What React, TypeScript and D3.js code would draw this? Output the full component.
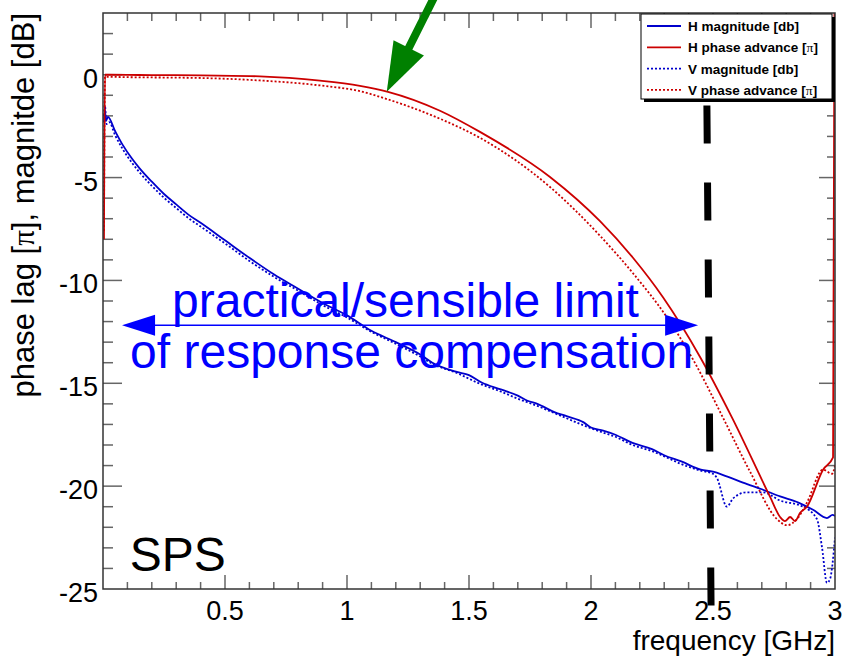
import { useEffect, useRef } from 'react';
import * as d3 from 'd3';

// ==========================================
// DATA
// ==========================================
const hMagFreq = [0.004, 0.008, 0.012, 0.02, 0.05, 0.08, 0.12, 0.15, 0.2, 0.25, 0.3, 0.35, 0.4, 0.5, 0.6, 0.7, 0.8, 0.9, 1.0, 1.1, 1.2, 1.3, 1.35, 1.45, 1.5, 1.55, 1.63, 1.7, 1.74, 1.78, 1.85, 1.9, 1.97, 2.0, 2.05, 2.1, 2.17, 2.25, 2.3, 2.37, 2.45, 2.5, 2.55, 2.64, 2.7, 2.775, 2.85, 2.91, 2.967, 2.99, 3.0];
const hMag = [-2.3, -1.7, -2.25, -2.05, -2.75, -3.4, -4.1, -4.55, -5.2, -5.8, -6.3, -6.8, -7.2, -8.05, -8.9, -9.7, -10.4, -11.1, -11.7, -12.45, -13.0, -13.6, -14.0, -14.45, -14.6, -14.95, -15.3, -15.6, -15.85, -16.0, -16.4, -16.6, -16.9, -17.15, -17.3, -17.5, -17.9, -18.2, -18.5, -18.8, -19.2, -19.3, -19.5, -19.9, -20.15, -20.5, -20.8, -21.15, -21.55, -21.4, -21.45];

const hPhaseFreq = [0.004, 0.008, 0.1, 0.2, 0.4, 0.643, 0.889, 1.053, 1.168, 1.381, 1.545, 1.832, 2.037, 2.172, 2.295, 2.447, 2.578, 2.734, 2.775, 2.795, 2.816, 2.836, 2.857, 2.885, 2.951, 2.992, 2.998];
const hPhase = [-8.0, 0.0, -0.01, -0.02, -0.03, -0.08, -0.29, -0.54, -0.83, -1.75, -2.78, -4.97, -7.12, -8.9, -10.82, -13.72, -16.67, -20.52, -21.5, -21.7, -21.5, -21.7, -21.3, -21.0, -19.2, -18.6, 4];

const vMagFreq = [0.004, 0.008, 0.014, 0.025, 0.05, 0.08, 0.12, 0.15, 0.2, 0.25, 0.3, 0.35, 0.4, 0.5, 0.6, 0.7, 0.8, 0.9, 1.0, 1.1, 1.2, 1.3, 1.35, 1.45, 1.55, 1.63, 1.7, 1.78, 1.85, 1.9, 1.97, 2.05, 2.1, 2.17, 2.25, 2.3, 2.365, 2.45, 2.5, 2.516, 2.557, 2.582, 2.639, 2.705, 2.775, 2.869, 2.926, 2.947, 2.967, 2.98, 3.0];
const vMag = [-2.0, -1.5, -2.4, -2.3, -2.95, -3.6, -4.3, -4.75, -5.4, -5.98, -6.48, -6.97, -7.38, -8.2, -9.05, -9.82, -10.5, -11.2, -11.8, -12.5, -13.08, -13.7, -14.05, -14.5, -15.05, -15.4, -15.75, -16.1, -16.45, -16.7, -17.05, -17.4, -17.6, -18.0, -18.3, -18.55, -18.9, -19.25, -19.4, -19.6, -21.0, -20.6, -20.3, -20.3, -20.7, -21.0, -21.6, -23.0, -24.7, -24.5, -22.5];

const vPhaseFreq = [0.004, 0.008, 0.1, 0.4, 0.643, 0.889, 1.053, 1.16, 1.381, 1.545, 1.832, 2.037, 2.172, 2.311, 2.418, 2.541, 2.652, 2.762, 2.803, 2.844, 2.885, 2.951, 2.988, 3.0];
const vPhase = [-7.6, -0.1, -0.12, -0.16, -0.28, -0.52, -0.8, -1.17, -2.14, -3.07, -5.46, -7.83, -9.65, -11.79, -13.84, -16.67, -19.3, -21.6, -21.9, -21.6, -20.8, -19.2, -19.4, -19.0];

const xTickLabels = [0.5, 1, 1.5, 2, 2.5, 3];
const yTickLabels = [0, -5, -10, -15, -20, -25];

const legendNames = ['H magnitude [db]', 'H phase advance [π]', 'V magnitude [db]', 'V phase advance [π]'];

const BLUE = '#0000cc';
const RED = '#cc0000';
const FONT = 'Liberation Sans, Arial, Helvetica, sans-serif';

const App = () => {
    const svgRef = useRef<SVGSVGElement>(null);

    useEffect(() => {
        const width = 842;
        const height = 660;
        const margin = { top: 13, right: 7, bottom: 71, left: 103 };

        const root = d3.select(svgRef.current);
        root.selectAll('*').remove();
        root.attr('width', width).attr('height', height);

        const x = d3.scaleLinear().domain([0, 3]).range([margin.left, width - margin.right]);
        const y = d3.scaleLinear().domain([-25, 3]).range([height - margin.bottom, margin.top]);

        const [x0, x1] = x.range();
        const [y0, y1] = y.range();

        root.append('rect').attr('width', width).attr('height', height).attr('fill', '#fff');

        root.append('clipPath').attr('id', 'plot-clip')
            .append('rect')
            .attr('x', x0).attr('y', y1)
            .attr('width', x1 - x0).attr('height', y0 - y1);

        // ==========================================
        // TICKS (ROOT style, pointing inward)
        // ==========================================
        const ticks = root.append('g').attr('stroke', '#666').attr('stroke-width', 1.5);

        d3.range(1, 30).forEach((i) => {
            const v = i / 10;
            const major = i % 5 === 0;
            ticks.append('line').attr('x1', x(v)).attr('x2', x(v))
                .attr('y1', y0).attr('y2', y0 - (major ? 14 : 7));
            ticks.append('line').attr('x1', x(v)).attr('x2', x(v))
                .attr('y1', y1).attr('y2', y1 + (major ? 15 : 8));
        });

        d3.range(-24, 3).forEach((v) => {
            const major = v % 5 === 0;
            ticks.append('line').attr('y1', y(v)).attr('y2', y(v))
                .attr('x1', x0).attr('x2', x0 + (major ? 19 : 10));
            ticks.append('line').attr('y1', y(v)).attr('y2', y(v))
                .attr('x1', x1).attr('x2', x1 - (major ? 16 : 8));
        });

        // ==========================================
        // CURVES
        // ==========================================
        const curves = root.append('g').attr('clip-path', 'url(#plot-clip)');

        const line = d3.line<[number, number]>()
            .x((d) => x(d[0]))
            .y((d) => y(d[1]))
            .curve(d3.curveMonotoneX);

        const series = [
            { f: vMagFreq, v: vMag, color: BLUE, dash: '2,2' },
            { f: vPhaseFreq, v: vPhase, color: RED, dash: '2,2' },
            { f: hMagFreq, v: hMag, color: BLUE, dash: null },
            { f: hPhaseFreq, v: hPhase, color: RED, dash: null },
        ];

        series.forEach((s) => {
            curves.append('path')
                .attr('d', line(s.f.map((f, i) => [f, s.v[i]] as [number, number])))
                .attr('fill', 'none')
                .attr('stroke', s.color)
                .attr('stroke-width', 1.8)
                .attr('stroke-dasharray', s.dash);
        });

        // frame
        root.append('rect')
            .attr('x', x0).attr('y', y1)
            .attr('width', x1 - x0).attr('height', y0 - y1)
            .attr('fill', 'none')
            .attr('stroke', '#333')
            .attr('stroke-width', 1.5);

        // ==========================================
        // AXIS LABELS
        // ==========================================
        root.append('g').selectAll('text')
            .data(xTickLabels)
            .enter()
            .append('text')
            .attr('x', (d) => x(d))
            .attr('y', y0 + 31)
            .attr('text-anchor', 'middle')
            .style('font-family', FONT)
            .style('font-size', '27px')
            .text((d) => d);

        root.append('g').selectAll('text')
            .data(yTickLabels)
            .enter()
            .append('text')
            .attr('x', x0 - 5)
            .attr('y', (d) => y(d) + 13)
            .attr('text-anchor', 'end')
            .style('font-family', FONT)
            .style('font-size', '27px')
            .text((d) => d);

        root.append('text')
            .attr('x', x1)
            .attr('y', y0 + 61)
            .attr('text-anchor', 'end')
            .style('font-family', FONT)
            .style('font-size', '28px')
            .text('frequency [GHz]');

        const yTitle = root.append('text')
            .attr('transform', `translate(34, ${y1}) rotate(-90)`)
            .attr('text-anchor', 'end')
            .style('font-family', FONT)
            .style('font-size', '31px');
        yTitle.append('tspan').text('phase lag [');
        yTitle.append('tspan').style('font-family', 'Liberation Serif, DejaVu Serif, serif').text('π');
        yTitle.append('tspan').text('], magnitde [dB]');

        // ==========================================
        // LEGEND
        // ==========================================
        const lg = root.append('g').attr('transform', 'translate(641, 14)');
        lg.append('rect').attr('x', 3).attr('y', 3).attr('width', 191).attr('height', 85).attr('fill', '#000');
        lg.append('rect').attr('width', 191).attr('height', 85).attr('fill', '#fff')
            .attr('stroke', '#000').attr('stroke-width', 1);

        const legendStyles = [
            { color: BLUE, dash: null },
            { color: RED, dash: null },
            { color: BLUE, dash: '2,2' },
            { color: RED, dash: '2,2' },
        ];

        legendNames.forEach((name, i) => {
            const cy = 12 + i * 21.3;
            lg.append('line')
                .attr('x1', 6).attr('x2', 40)
                .attr('y1', cy).attr('y2', cy)
                .attr('stroke', legendStyles[i].color)
                .attr('stroke-width', 1.8)
                .attr('stroke-dasharray', legendStyles[i].dash);
            const t = lg.append('text')
                .attr('x', 47)
                .attr('y', cy + 5)
                .style('font-family', FONT)
                .style('font-size', '13.5px')
                .style('font-weight', 'bold');
            const parts = name.split('π');
            t.append('tspan').text(parts[0]);
            if (parts.length > 1) {
                t.append('tspan').style('font-family', 'Liberation Serif, DejaVu Serif, serif').style('font-weight', 'normal').text('π');
                t.append('tspan').text(parts[1]);
            }
        });

        // ==========================================
        // ANNOTATIONS
        // ==========================================
        // black dashed limit line
        root.append('line')
            .attr('x1', x(2.475)).attr('y1', y(-1.5))
            .attr('x2', x(2.492)).attr('y2', y(-25.8))
            .attr('stroke', '#000')
            .attr('stroke-width', 7)
            .attr('stroke-dasharray', '38,39');

        const arrowHead = (tx: number, ty: number, fx: number, fy: number, len: number, half: number) => {
            const ang = Math.atan2(ty - fy, tx - fx);
            const bx = tx - len * Math.cos(ang);
            const by = ty - len * Math.sin(ang);
            const px = -Math.sin(ang) * half;
            const py = Math.cos(ang) * half;
            return `M${tx},${ty}L${bx + px},${by + py}L${bx - px},${by - py}Z`;
        };

        // green arrow
        const gTip = [x(1.163), y(-0.83)];
        const gTail = [x(1.365), y(3.95)];
        const gAng = Math.atan2(gTip[1] - gTail[1], gTip[0] - gTail[0]);
        root.append('line')
            .attr('x1', gTail[0]).attr('y1', gTail[1])
            .attr('x2', gTip[0] - 40 * Math.cos(gAng)).attr('y2', gTip[1] - 40 * Math.sin(gAng))
            .attr('stroke', '#008000')
            .attr('stroke-width', 8);
        root.append('path')
            .attr('d', arrowHead(gTip[0], gTip[1], gTail[0], gTail[1], 49, 17))
            .attr('fill', '#008000');

        // blue double arrow
        const ay = y(-12.18);
        const ax1 = x(0.078);
        const ax2 = x(2.439);
        root.append('line')
            .attr('x1', ax1 + 20).attr('x2', ax2 - 20)
            .attr('y1', ay).attr('y2', ay)
            .attr('stroke', '#0000ff')
            .attr('stroke-width', 1.5);
        root.append('path').attr('d', arrowHead(ax1, ay, ax2, ay, 33, 10.5)).attr('fill', '#0000ff');
        root.append('path').attr('d', arrowHead(ax2, ay, ax1, ay, 33, 10.5)).attr('fill', '#0000ff');

        root.append('text')
            .attr('x', x(0.283)).attr('y', y(-11.79))
            .attr('fill', '#0000ff')
            .style('font-family', FONT)
            .style('font-size', '48px')
            .text('practical/sensible limit');

        root.append('text')
            .attr('x', x(0.111)).attr('y', y(-14.28))
            .attr('fill', '#0000ff')
            .style('font-family', FONT)
            .style('font-size', '48px')
            .text('of response compensation');

        root.append('text')
            .attr('x', x(0.11)).attr('y', y(-24.12))
            .style('font-family', FONT)
            .style('font-size', '48px')
            .text('SPS');
    }, []);

    return (
        <div style={{ position: 'absolute', left: 0, top: 0 }}>
            <svg ref={svgRef}></svg>
        </div>
    );
};

export default App;
